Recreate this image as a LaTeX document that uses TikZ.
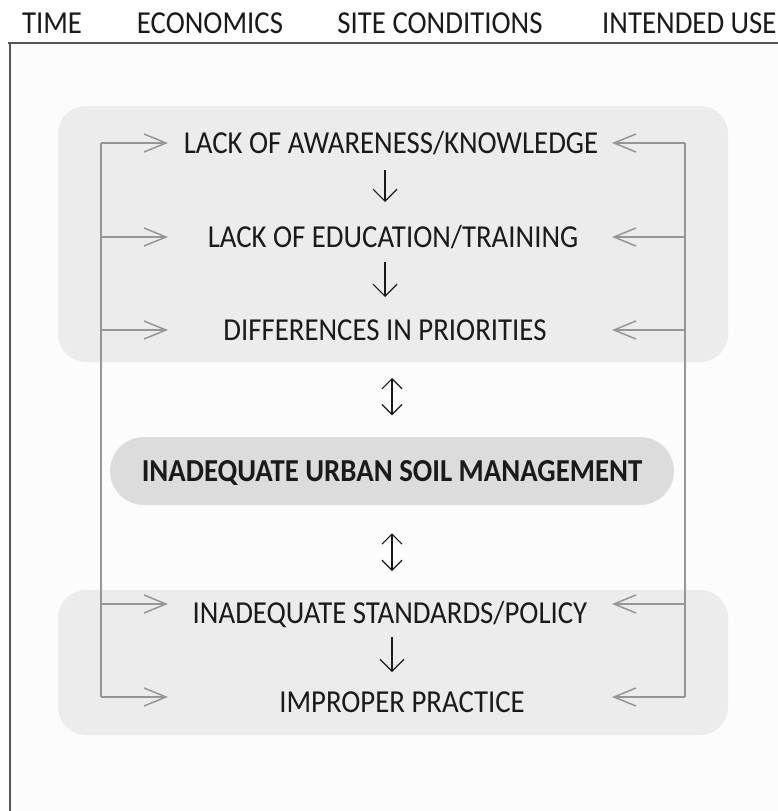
\documentclass[tikz,border=0pt]{standalone}
\usepackage{fontspec}
\setmainfont{Carlito}[FakeStretch=0.9]
\usetikzlibrary{arrows.meta,positioning}
\definecolor{panelgray}{RGB}{236,236,236}
\definecolor{pillgray}{RGB}{220,220,220}
\definecolor{linegray}{RGB}{150,150,150}
\definecolor{framegray}{RGB}{85,85,85}
\definecolor{ink}{RGB}{26,26,26}

\begin{document}
\begin{tikzpicture}[x=1pt,y=-1pt,
    every node/.style={inner sep=0pt, text=ink, font=\fontsize{32}{36}\selectfont},
    row/.style={anchor=base},
    flow/.style={-{Straight Barb[length=12pt,width=24pt]}, line width=1.2pt, ink},
    both/.style={{Straight Barb[length=10pt,width=20pt]}-{Straight Barb[length=10pt,width=20pt]}, line width=1.2pt, ink},
    feed/.style={-{Straight Barb[length=22pt,width=18pt]}, line width=1.5pt, linegray},
    bus/.style={line width=1.5pt, linegray},
    panel/.style={fill=panelgray, rounded corners=28pt},
    pill/.style={fill=pillgray, rounded corners=34pt, minimum width=564pt,
      minimum height=68pt, text height=20.5pt, text depth=0pt,
      font=\fontsize{32}{36}\selectfont\bfseries}]

    \useasboundingbox (0,0) rectangle (778,811);

    % page frame
    \fill[black!1] (10,43) rectangle (778,811);
    \draw[framegray, line width=1.5pt] (8,43) -- (778,43);
    \draw[framegray, line width=1.5pt] (10,43) -- (10,811);

    % column headings
    \node[row] (time) at (52,33) {TIME};
    \node[row] (econ) at (210,33) {ECONOMICS};
    \node[row] (site) at (440,33) {SITE CONDITIONS};
    \node[row, anchor=base west] (use) at (602,33) {INTENDED USE};

    % grey panels
    \fill[panel] (58,106) rectangle (728,362);
    \fill[panel] (58,590) rectangle (728,735);

    % causes
    \node[row] (aware) at (391,153) {LACK OF AWARENESS/KNOWLEDGE};
    \node[row] (educ) at (393,247) {LACK OF EDUCATION/TRAINING};
    \node[row] (prior) at (385,340) {DIFFERENCES IN PRIORITIES};
    \node[pill] (manage) at (392,471) {INADEQUATE URBAN SOIL MANAGEMENT};
    \node[row] (policy) at (390,623) {INADEQUATE STANDARDS/POLICY};
    \node[row] (practice) at (402,712) {IMPROPER PRACTICE};

    % arrows down the middle
    \coordinate (axis) at (385,0);
    \draw[flow, shorten <=17pt, shorten >=45pt] (aware.base -| axis) -- (educ.base -| axis);
    \draw[flow, shorten <=15pt, shorten >=43pt] (educ.base -| axis) -- (prior.base -| axis);
    \draw[both, shorten <=38pt, shorten >=66pt] (prior.base -| manage) -- (manage.base);
    \draw[both, shorten <=52pt, shorten >=52pt] (manage.base) -- (policy.base -| manage);
    \draw[flow, shorten <=14pt, shorten >=40pt] (policy.base -| manage) -- (practice.base -| manage);

    % side feeds from the four headings
    \foreach \y [count=\i] in {143,237,330,604,697} {
      \coordinate (l\i) at (101,\y);
      \coordinate (lt\i) at (168,\y);
      \coordinate (r\i) at (685,\y);
      \coordinate (rt\i) at (612,\y);
    }
    \draw[bus] (l1) -- (l5);
    \draw[bus] (r1) -- (r5);
    \foreach \i in {1,...,5} {
      \draw[feed] (l\i) -- (lt\i);
      \draw[feed] (r\i) -- (rt\i);
    }
\end{tikzpicture}
\end{document}
